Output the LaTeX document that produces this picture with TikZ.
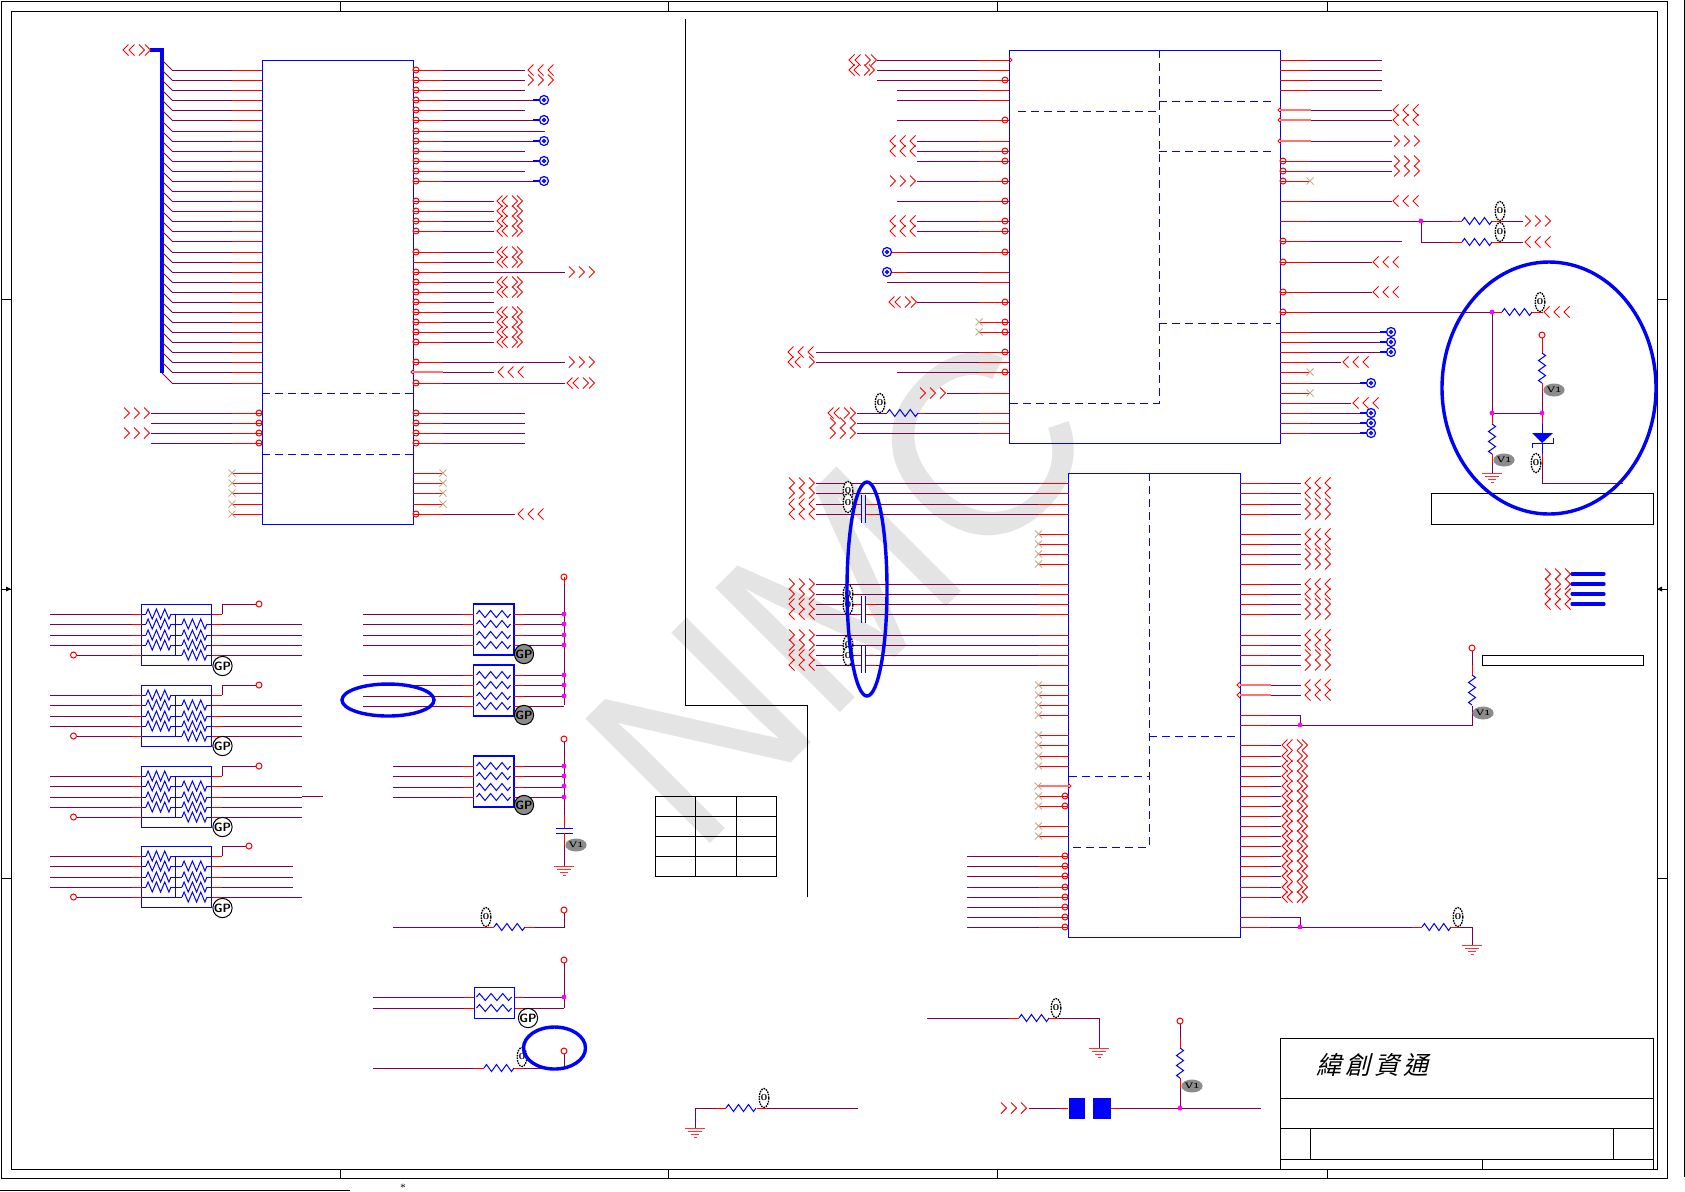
\documentclass[tikz,border=0pt]{standalone}
\usepackage{fontspec}
\usetikzlibrary{shapes.geometric}
\newfontfamily\markfont{Liberation Sans}
\newfontfamily\cjk[FakeSlant=0.25]{Noto Sans CJK TC}
\definecolor{wireP}{RGB}{128,0,80}
\definecolor{xTan}{RGB}{200,170,140}
\definecolor{markGray}{RGB}{228,228,228}
\definecolor{dotPink}{RGB}{255,0,255}
\tikzset{
  wirep/.style={draw=wireP, line width=.5pt},
  wirer/.style={draw=red, line width=.5pt},
  glow/.style={draw=red!55, line width=1pt},
  chip/.style={draw=blue, line width=.5pt, inner sep=0pt, outer sep=0pt},
  sect/.style={draw=blue, line width=.5pt, dash pattern=on 4pt off 2.5pt},
  zig/.style={draw=blue, line width=.5pt, line join=miter},
  chev/.style={draw=red, line width=.5pt},
  zerotag/.style={ellipse, draw=black, dash pattern=on .8pt off .5pt, line width=.7pt, fill=white, inner sep=0pt, minimum width=4pt, minimum height=9.5pt, font=\fontsize{4.5}{4.5}\selectfont\bfseries},
  vtag/.style={ellipse, fill=black!45, inner sep=0pt, minimum width=10pt, minimum height=6.5pt, font=\fontsize{4}{4}\selectfont\bfseries},
  gpwhite/.style={circle, draw=black, line width=.5pt, fill=white, inner sep=0pt, minimum size=9.5pt, font=\fontsize{6}{6}\selectfont\sffamily\bfseries},
  gpgray/.style={gpwhite, fill=black!45},
  frameline/.style={draw=black, line width=.5pt},
  blob/.style={draw=blue, line width=1.7pt},
}
\newcommand{\lpin}[3]{\draw[wirep] (#2,#3) -- (#1.west |- 0,#3); \draw[wirer] (#1.west |- 0,#3) -- ++(-30,0);}
\newcommand{\rpin}[3]{\draw[wirep] (#2,#3) -- (#1.east |- 0,#3); \draw[wirer] (#1.east |- 0,#3) -- ++(30,0);}
\newcommand{\lstub}[2]{\draw[wirer] (#1.west |- 0,#2) -- ++(-30,0); \draw[xTan,line width=.4pt] ([shift={(-33.5,-3.5)}]#1.west |- 0,#2) -- ++(7,7) ++(0,-7) -- ++(-7,7);}
\newcommand{\rstub}[2]{\draw[wirer] (#1.east |- 0,#2) -- ++(30,0); \draw[xTan,line width=.4pt] ([shift={(26.5,-3.5)}]#1.east |- 0,#2) -- ++(7,7) ++(0,-7) -- ++(-7,7);}
\newcommand{\bub}[2]{\draw[wirer] (#1,#2) circle (3);}
\newcommand{\jdot}[2]{\fill[dotPink] (#1,#2) circle (2.4);}
\newcommand{\chR}[2]{\draw[chev] (#1,#2-5.5) -- (#1+5.5,#2) -- (#1,#2+5.5);}
\newcommand{\chL}[2]{\draw[chev] (#1+5.5,#2-5.5) -- (#1,#2) -- (#1+5.5,#2+5.5);}
\newcommand{\threeR}[2]{\foreach \cx in {0,10,20} {\chR{#1+\cx}{#2}}}
\newcommand{\threeL}[2]{\foreach \cx in {0,10,20} {\chL{#1+\cx}{#2}}}
\newcommand{\pairLR}[2]{\chL{#1}{#2} \chL{#1+5}{#2} \chR{#1+15}{#2} \chR{#1+20}{#2}}
\newcommand{\biDir}[2]{\chL{#1}{#2} \chL{#1+6}{#2} \chR{#1+16}{#2} \chR{#1+22}{#2}}
\newcommand{\viaring}[2]{\draw[blue,line width=.6pt] (#1,#2) circle (4.5) (#1,#2) circle (1.5); \draw[blue,line width=.8pt] (#1-4.5,#2) -- ++(-7,0);}
\newcommand{\resh}[4][3.5]{\pgfmathsetmacro{\ru}{#4/12}
  \draw[zig] (#2,#3) -- ++(\ru,-#1) -- ++(2*\ru,2*#1) -- ++(2*\ru,-2*#1) -- ++(2*\ru,2*#1) -- ++(2*\ru,-2*#1) -- ++(2*\ru,2*#1) -- ++(\ru,-#1);}
\newcommand{\resv}[3]{\draw[zig] (#1,#2) -- ++(3.5,2.5) -- ++(-7,5) -- ++(7,5) -- ++(-7,5) -- ++(7,5) -- ++(-7,5) -- ++(3.5,2.5);}
\newcommand{\gnd}[2]{\draw[draw=red!80,line width=.5pt] (#1-10,#2) -- ++(20,0) (#1-7,#2+3) -- ++(14,0) (#1-4,#2+6) -- ++(8,0) (#1-1.5,#2+9) -- ++(3,0);}
% resistor pack, left column: top, right end, bubble x, name
\newcommand{\rpack}[4]{
  \node[chip, minimum width=35pt, minimum height=30.5pt] (#4) at (176.5,#1+30.5) {};
  \draw[chip] (175.5,#1+10) -- (175.5,#1+51) (175.5,#1+10) -- (#4.east |- 0,#1+10) (#4.west |- 0,#1+51) -- (182,#1+51);
  \foreach \dy in {10,20,31,41} {
    \draw[wirep] (50,#1+\dy) -- (132,#1+\dy); \draw[wirer] (132,#1+\dy) -- (#4.west |- 0,#1+\dy);
    \draw[zig] (#4.west |- 0,#1+\dy) -- (146,#1+\dy) (171,#1+\dy) -- (175.5,#1+\dy);
    \resh[5]{146}{#1+\dy}{25}}
  \foreach \dy in {20,31,41,51} {
    \draw[zig] (175.5,#1+\dy) -- (182,#1+\dy) (207,#1+\dy) -- (#4.east |- 0,#1+\dy);
    \resh[5]{182}{#1+\dy}{25}}
  \foreach \dy in {20,31,41} {\draw[wirer] (#4.east |- 0,#1+\dy) -- (222,#1+\dy); \draw[wirep] (222,#1+\dy) -- (#2,#1+\dy);}
  \draw[wirer] (#4.east |- 0,#1+51) -- (222,#1+51); \draw[wirep] (222,#1+51) -- (302,#1+51);
  \bub{73.5}{#1+51} \draw[wirep] (76.5,#1+51) -- (132,#1+51); \draw[wirer] (132,#1+51) -- (#4.west |- 0,#1+51);
  \draw[wirer] (#4.east |- 0,#1+10) -- (222,#1+10); \draw[wirep] (222,#1+10) -- (222,#1) -- (#3-3,#1); \bub{#3}{#1}
}
% resistor pack, middle column: top, left end, name
\newcommand{\rpfour}[3]{
  \node[chip, line width=.8pt, minimum width=20.25pt, minimum height=25.5pt] (#3) at (493.75,#1+25.5) {};
  \foreach \dy in {10,20,31,41} {
    \draw[wirep] (#2,#1+\dy) -- (463,#1+\dy); \draw[wirer] (463,#1+\dy) -- (#3.west |- 0,#1+\dy);
    \resh[3.5]{476.5}{#1+\dy}{34}
    \draw[wirer] (#3.east |- 0,#1+\dy) -- (524,#1+\dy); \draw[wirep] (524,#1+\dy) -- (564,#1+\dy);}
}
\begin{document}
\begin{tikzpicture}[x=.5pt, y=-.5pt]
\useasboundingbox (0,0) rectangle (1685,1191);
\fill[white] (0,0) rectangle (1685,1191);
\node[rotate=45, text=markGray, font=\fontsize{128}{128}\selectfont\markfont, inner sep=0pt] (wmark) at (839,590) {NMC};

% sheet frame
\draw[frameline] (1,1) rectangle (1667,1178);
\draw[frameline] (11,11) rectangle (1657,1169);
\draw[frameline] (1684,0) -- (1684,1177);
\draw[frameline] (0,1190) -- (350,1190);
\foreach \x in {340,668,997,1327} {\draw[frameline] (\x,1) -- (\x,11); \draw[frameline] (\x,1169) -- (\x,1178);}
\foreach \y in {299,878} {\draw[frameline] (1,\y) -- (11,\y); \draw[frameline] (1657,\y) -- (1667,\y);}
\draw[frameline] (1,589) -- (11,589) (1657,589) -- (1667,589);
\fill (11,589) -- (6,586.5) -- (6,591.5) -- cycle;
\fill (1657,589) -- (1662,586.5) -- (1662,591.5) -- cycle;
\node[font=\tiny, inner sep=0pt] (starmark) at (403,1188) {*};

% divider and small table
\draw[frameline] (685.5,19) -- (685.5,705) -- (807,705) -- (807,897);
\draw[frameline] (655.5,796) rectangle (776,876);
\foreach \y in {816,836,856} {\draw[frameline] (655.5,\y) -- (776,\y);}
\foreach \x in {695.5,736} {\draw[frameline] (\x,796) -- (\x,876);}

% first chip
\node[chip, minimum width=75.5pt, minimum height=232pt] (u1) at (337.5,292) {};
\draw[sect] (u1.west |- 0,393) -- (u1.east |- 0,393);
\draw[sect] (u1.west |- 0,454) -- (u1.east |- 0,454);
\draw[blue, line width=1.7pt] (150,50) -- (162,50) -- (162,373);
\foreach \y in {70,80,90,100,110,120,131,141,151,161,171,181,191,201,211,221,231,241,252,262,272,282,292,302,312,322,332,342,352,362,372,383} {
  \lpin{u1}{172}{\y}
  \draw[wirep] (162,\y-10) -- (172,\y);
}
\biDir{123}{50}
\foreach \y in {413,423,433,443} {\lpin{u1}{151}{\y} \bub{259}{\y} \rpin{u1}{525}{\y} \bub{416}{\y}}
\threeR{124}{413} \threeR{124}{433}
\foreach \y in {473,483,493,504,514} {\lstub{u1}{\y}}
\foreach \y in {473,483,493,504} {\rstub{u1}{\y}}
\rpin{u1}{515}{514} \bub{416}{514} \threeL{518}{514}
\foreach \y in {70,80,90,100,110,120,141,151,161,171,181} {\rpin{u1}{525}{\y} \bub{416}{\y}}
\rpin{u1}{545}{131} \bub{416}{131}
\threeL{528}{70} \threeR{528}{80}
\foreach \y in {100,120,141,161,181} {\viaring{544}{\y} \draw[wirep] (525,\y) -- (533,\y);}
\foreach \y in {201,211,221,231,252,282,292,302,312,322,332,342} {\rpin{u1}{494}{\y} \bub{416}{\y}}
\rpin{u1}{494}{262}
\foreach \y in {201,211,221,231,252,262,282,292,312,322,332,342} {\pairLR{497}{\y}}
\foreach \y in {272,362} {\rpin{u1}{565}{\y} \bub{416}{\y} \threeR{569}{\y}}
\rpin{u1}{565}{383} \bub{416}{383} \biDir{567}{383}
\draw[wirep] (443,372) -- (494,372); \draw[glow] (413,372) -- (443,372);
\draw[wirer] (414,369) -- (411,372) -- (414,375); \threeL{498}{372}

% second chip
\node[chip, minimum width=135.5pt, minimum height=196.5pt] (u2) at (1144.5,246.5) {};
\draw[sect] (1159,50) -- (1159,403) -- (u2.west |- 0,403);
\draw[sect] (1018,111) -- (1159,111);
\draw[sect] (1159,101) -- (1271,101);
\draw[sect] (1159,151) -- (1271,151);
\draw[sect] (1159,323) -- (u2.east |- 0,323);
\lpin{u2}{877}{60} \lpin{u2}{877}{70} \lpin{u2}{877}{80} \bub{1005}{80}
\draw[wirer] (1009,57) -- (1012,60) -- (1009,63);
\biDir{849}{60} \pairLR{849}{70}
\lpin{u2}{897}{90} \lpin{u2}{897}{100} \lpin{u2}{897}{120} \bub{1005}{120}
\foreach \y in {141,151,161} {\lpin{u2}{917}{\y}}
\bub{1005}{151} \bub{1005}{161} \threeL{890}{141} \threeL{890}{151}
\lpin{u2}{917}{181} \bub{1005}{181} \threeR{890}{181}
\lpin{u2}{897}{201} \bub{1005}{201}
\foreach \y in {221,231} {\lpin{u2}{917}{\y} \bub{1005}{\y} \threeL{890}{\y}}
\lpin{u2}{907}{252} \bub{1005}{252} \draw[wirer] (892,252) -- (907,252); \draw[blue,line width=.6pt] (887,252) circle (4.5) (887,252) circle (1.5);
\lpin{u2}{907}{272} \draw[wirer] (892,272) -- (907,272); \draw[blue,line width=.6pt] (887,272) circle (4.5) (887,272) circle (1.5);
\lpin{u2}{887}{282}
\lpin{u2}{917}{302} \bub{1005}{302} \biDir{889}{302}
\foreach \y in {322,332} {\lstub{u2}{\y} \bub{1005}{\y}}
\lpin{u2}{816}{352} \bub{1005}{352} \threeL{788}{352}
\lpin{u2}{816}{362} \chL{788}{362} \chL{795}{362} \chR{809}{362}
\lpin{u2}{897}{372} \bub{1005}{372}
\lpin{u2}{947}{393} \threeR{920}{393}
\lpin{u2}{925}{413} \draw[wirer] (918,413) -- (925,413); \draw[wirep] (857,413) -- (887,413); \resh{887}{413}{31}
\node[zerotag] (z1) at (880,403) {0};
\biDir{828}{413}
\lpin{u2}{857}{423} \lpin{u2}{857}{433} \threeR{830}{423} \threeR{830}{433}
\foreach \y in {60,70,80,90} {\rpin{u2}{1382}{\y}}
\foreach \y in {110,120,141} {\draw[wirep] (1311,\y) -- (1392,\y); \draw[glow] (u2.east |- 0,\y) -- (1311,\y); \draw[wirer] (1281,\y-3) -- (1278,\y) -- (1281,\y+3);}
\threeL{1393}{110} \threeL{1393}{120} \threeR{1394}{141}
\foreach \y in {161,171} {\rpin{u2}{1392}{\y} \bub{1283}{\y} \threeR{1394}{\y}}
\rstub{u2}{181} \bub{1283}{181}
\rpin{u2}{1392}{201} \threeL{1393}{201}
\rpin{u2}{1421}{221} \rpin{u2}{1402}{241} \bub{1283}{241}
\draw[wirep] (1421,221) -- (1452,221); \draw[wirer] (1452,221) -- (1462,221); \resh{1462}{221}{30}
\draw[wirer] (1492,221) -- (1502,221); \draw[wirep] (1502,221) -- (1523,221); \threeR{1525}{221}
\draw[wirep] (1421,221) -- (1421,242) -- (1452,242); \draw[wirer] (1452,242) -- (1462,242); \resh{1462}{242}{30}
\draw[wirer] (1492,242) -- (1502,242); \draw[wirep] (1502,242) -- (1523,242); \threeL{1525}{242}
\jdot{1421}{221}
\node[zerotag] (z2) at (1500,211) {0};
\node[zerotag] (z3) at (1500,232) {0};
\foreach \y in {262,292} {\rpin{u2}{1372}{\y} \bub{1283}{\y} \threeL{1373}{\y}}
\rpin{u2}{1492}{312} \bub{1283}{312}
\foreach \y in {332,342,352} {\rpin{u2}{1380}{\y} \viaring{1391}{\y}}
\rpin{u2}{1341}{362} \threeL{1343}{362}
\rstub{u2}{372}
\rpin{u2}{1360}{383} \viaring{1371}{383}
\rstub{u2}{393}
\rpin{u2}{1351}{403} \threeL{1353}{403}
\foreach \y in {413,423,433} {\rpin{u2}{1360}{\y} \viaring{1371}{\y}}

% network under the second chip's right side
\coordinate (junA) at (1492,312);
\coordinate (junB) at (1492,413);
\coordinate (junC) at (1542,413);
\draw[wirep] (junA) -- (junB) -- (junC);
\draw[wirer] (junA) -- (1502,312); \resh{1502}{312}{30} \draw[wirer] (1532,312) -- (1543,312); \threeL{1544}{312}
\node[zerotag] (z4) at (1540,302) {0};
\bub{1542}{335} \draw[wirer] (1542,338) -- (1542,353); \resv{1542}{353}{}
\draw[wirer] (1542,383) -- (1542,393); \draw[wirep] (1542,393) -- (junC); \draw[wirer] (junC) -- (1542,423);
\node[vtag] (v1) at (1554,390) {V1};
\draw[wirer] (junB) -- (1492,424); \resv{1492}{424}{}
\draw[wirer] (1492,454) -- (1492,463); \draw[wirep] (1492,463) -- (1492,473); \gnd{1492}{473}
\node[vtag] (v2) at (1504,460) {V1};
\draw[blue,line width=.5pt] (1542,423) -- (1542,433);
\fill[blue] (1532,433) -- (1553,433) -- (1542,443) -- cycle;
\draw[blue,line width=.5pt] (1532,448) -- (1532,443) -- (1553,443) -- (1553,438);
\draw[blue,line width=.5pt] (1542,443) -- (1542,454);
\draw[wirer] (1542,454) -- (1542,463); \draw[wirep] (1542,463) -- (1542,483) -- (1623,483);
\node[zerotag] (z5) at (1536,463) {0};
\jdot{1492}{312} \jdot{1492}{413} \jdot{1542}{413}
\draw[frameline] (1431,493) rectangle (1653,524);

% third chip
\node[chip, minimum width=85.75pt, minimum height=232pt] (u3) at (1154.25,705) {};
\draw[sect] (1149,473) -- (1149,847) -- (u3.west |- 0,847);
\draw[sect] (1149,736) -- (u3.east |- 0,736);
\draw[sect] (u3.west |- 0,776) -- (1149,776);
\foreach \y in {483,493,584,594,635,645} {\lpin{u3}{816}{\y}}
\foreach \y in {504,514,604,614,655,665} {
  \draw[wirep] (816,\y) -- (855,\y); \draw[wirer] (855,\y) -- (861,\y);
  \draw[wirer] (866,\y) -- (876,\y); \draw[wirep] (876,\y) -- (1038,\y); \draw[wirer] (1038,\y) -- (u3.west |- 0,\y);
}
\foreach \ya/\yb in {495/523,596/623,646/673} {\draw[blue,line width=.5pt] (861,\ya) -- (861,\yb) (865.5,\ya) -- (865.5,\yb);}
\foreach \y in {483,493,584,594,635,645} {\threeR{789}{\y}}
\foreach \y in {504,514,604,614,655,665} {\threeL{789}{\y}}
\node[zerotag] (z6) at (848,491) {0};
\node[zerotag] (z7) at (848,503) {0};
\node[zerotag] (z8) at (848,594) {0};
\node[zerotag] (z9) at (848,605) {0};
\node[zerotag] (z10) at (848,645) {0};
\node[zerotag] (z11) at (848,656) {0};
\foreach \y in {534,544,554,564,685,695,705,715,735,745,756,766,796,806,826,836} {\lstub{u3}{\y}}
\draw[glow] (1038,786) -- (u3.west |- 0,786); \draw[xTan,line width=.4pt] (1034.5,782.5) -- ++(7,7) ++(0,-7) -- ++(-7,7);
\draw[wirer] (1068,783) -- (1071,786) -- (1068,789);
\bub{1065}{796} \bub{1065}{806}
\foreach \y in {856,866,876,887,897,907,917,927} {\lpin{u3}{967}{\y} \bub{1065}{\y}}
\foreach \y in {483,493,534,544,584,594,635,645} {\rpin{u3}{1301}{\y} \threeL{1305}{\y}}
\foreach \y in {504,514,554,564,604,614,655,665} {\rpin{u3}{1301}{\y} \threeR{1305}{\y}}
\foreach \y in {685,695} {\draw[wirep] (1271,\y) -- (1301,\y); \draw[glow] (u3.east |- 0,\y) -- (1271,\y); \draw[wirer] (1240,\y-3) -- (1237,\y) -- (1240,\y+3); \threeL{1305}{\y}}
\rpin{u3}{1300}{715} \rpin{u3}{1300}{725}
\draw[wirep] (1300,715) -- (1300,725) -- (1472,725) -- (1472,706);
\resv{1472}{675}{} \draw[wirer] (1472,665) -- (1472,675); \draw[wirep] (1472,651) -- (1472,665); \bub{1472}{648}
\jdot{1300}{725}
\node[vtag] (v3) at (1483,713) {V1};
\foreach \y in {745,756,766,776,786,796,806,816,826,836,846,856,866,876,887,897} {\rpin{u3}{1281}{\y} \pairLR{1282}{\y}}
\rpin{u3}{1300}{917} \rpin{u3}{1300}{927}
\draw[wirep] (1300,917) -- (1300,927) -- (1412,927); \draw[wirer] (1412,927) -- (1422,927); \resh{1422}{927}{29}
\draw[wirer] (1451,927) -- (1460,927); \draw[wirep] (1460,927) -- (1472,927) -- (1472,945); \gnd{1472}{945}
\jdot{1300}{927}
\node[zerotag] (z12) at (1458,917) {0};

% small bus and boxed note
\foreach \y in {574,584} {\threeR{1545}{\y}}
\foreach \y in {594,604} {\threeL{1545}{\y}}
\foreach \y in {574,584,594,604} {\draw[blue, line width=1.6pt, line cap=round] (1572,\y) -- (1604,\y);}
\draw[frameline] (1482,655) rectangle (1643,665);

% resistor packs
\rpack{604}{302}{259}{rp1}
\rpack{685}{302}{259}{rp2}
\rpack{766}{302}{259}{rp3}
\rpack{846}{293}{249}{rp4}
\draw[wirep] (302,796) -- (323,796);
\node[gpwhite] (gp1) at (222.5,666) {GP};
\node[gpwhite] (gp2) at (222.5,746) {GP};
\node[gpwhite] (gp3) at (222.5,827) {GP};
\node[gpwhite] (gp4) at (222.5,908) {GP};

\rpfour{604}{363}{rp5}
\rpfour{665}{363}{rp6}
\rpfour{756}{393}{rp7}
\draw[wirep] (564,577) -- (564,705);
\draw[wirer] (564,577) -- (564,585); \bub{564}{577}
\foreach \y in {614,624,635,645,675,685,696} {\jdot{564}{\y}}
\node[gpgray] (gp5) at (524,654) {GP};
\node[gpgray] (gp6) at (524,715) {GP};
\bub{564}{739}
\draw[wirep] (564,742) -- (564,815); \draw[wirer] (564,815) -- (564,828);
\foreach \y in {766,776,786,797} {\jdot{564}{\y}}
\draw[blue,line width=.5pt] (556,828) -- (573,828) (556,833) -- (573,833);
\draw[wirer] (564,833) -- (564,845); \draw[wirep] (564,845) -- (564,866); \gnd{564}{866}
\node[vtag] (v4) at (576,845) {V1};
\node[gpgray] (gp7) at (524,805) {GP};

\draw[wirep] (393,927) -- (484,927); \draw[wirer] (484,927) -- (494,927); \resh{494}{927}{31}
\draw[wirer] (525,927) -- (535,927); \draw[wirep] (535,927) -- (564,927) -- (564,913); \bub{564}{910}
\node[zerotag] (z13) at (486,917) {0};

\node[chip, minimum width=20.25pt, minimum height=15.5pt] (rp8) at (494.25,1002.5) {};
\bub{564}{960} \draw[wirep] (564,963) -- (564,1008);
\foreach \y in {997,1008} {
  \draw[wirep] (372.7,\y) -- (464,\y); \draw[wirer] (464,\y) -- (rp8.west |- 0,\y);
  \resh{476.5}{\y}{35}
  \draw[wirer] (rp8.east |- 0,\y) -- (524,\y); \draw[wirep] (524,\y) -- (564,\y);
}
\jdot{564}{997}
\node[gpwhite] (gp8) at (528,1018) {GP};

\draw[wirep] (372.7,1068) -- (474,1068); \draw[wirer] (474,1068) -- (484,1068); \resh{484}{1068}{30}
\draw[wirer] (514,1068) -- (524,1068); \draw[wirep] (524,1068) -- (564,1068) -- (564,1054); \bub{564}{1051}
\node[zerotag] (z14) at (522,1057) {0};

% bottom parts
\draw[wirep] (858,1108) -- (764,1108); \draw[wirer] (757,1108) -- (767,1108); \resh{726}{1108}{30}
\draw[wirer] (716,1108) -- (726,1108); \draw[wirep] (716,1108) -- (695,1108) -- (695,1128); \gnd{695}{1128}
\node[zerotag] (z15) at (764,1098) {0};
\draw[wirep] (927,1018) -- (1009,1018); \draw[wirer] (1009,1018) -- (1019,1018); \resh{1019}{1018}{30}
\draw[wirer] (1049,1018) -- (1059,1018); \draw[wirep] (1059,1018) -- (1099,1018) -- (1099,1048); \gnd{1099}{1048}
\node[zerotag] (z16) at (1056,1008) {0};
\bub{1180}{1021} \draw[wirep] (1180,1024) -- (1180,1038); \draw[wirer] (1180,1038) -- (1180,1048); \resv{1180}{1048}{}
\draw[wirer] (1180,1078) -- (1180,1088); \draw[wirep] (1180,1088) -- (1180,1108);
\node[vtag] (v5) at (1192,1086) {V1};
\threeR{1001}{1108}
\node[fill=blue, inner sep=0pt, minimum width=8pt, minimum height=10.5pt] (l1) at (1076.5,1108.5) {};
\node[fill=blue, inner sep=0pt, minimum width=8.75pt, minimum height=10.5pt] (l2) at (1102,1108.5) {};
\draw[wirep] (1029,1108) -- (1060,1108); \draw[wirer] (1060,1108) -- (l1.west |- 0,1108);
\draw[wirer] (l2.east |- 0,1108) -- (1120,1108); \draw[wirep] (1120,1108) -- (1261,1108);
\jdot{1180}{1108}

% title block
\draw[frameline] (1280.5,1038.5) rectangle (1653,1169);
\draw[frameline] (1280.5,1098) -- (1653,1098);
\draw[frameline] (1280.5,1128) -- (1653,1128);
\draw[frameline] (1280.5,1159) -- (1653,1159);
\draw[frameline] (1310.7,1128) -- (1310.7,1159);
\draw[frameline] (1613,1128) -- (1613,1159);
\draw[frameline] (1482,1159) -- (1482,1169);
\node[font=\fontsize{12.5}{12.5}\selectfont\cjk, inner sep=0pt] (titlecn) at (1372,1065) {緯\hspace{2pt}創\hspace{2pt}資\hspace{2pt}通};

% hand-drawn rings
\draw[blob] (1549,388) ellipse (107 and 126);
\draw[blob] (867,589) ellipse (20 and 107);
\draw[blob] (388,700) ellipse (46 and 16);
\draw[blob] (554.5,1048) ellipse (31 and 21);
\end{tikzpicture}
\end{document}
